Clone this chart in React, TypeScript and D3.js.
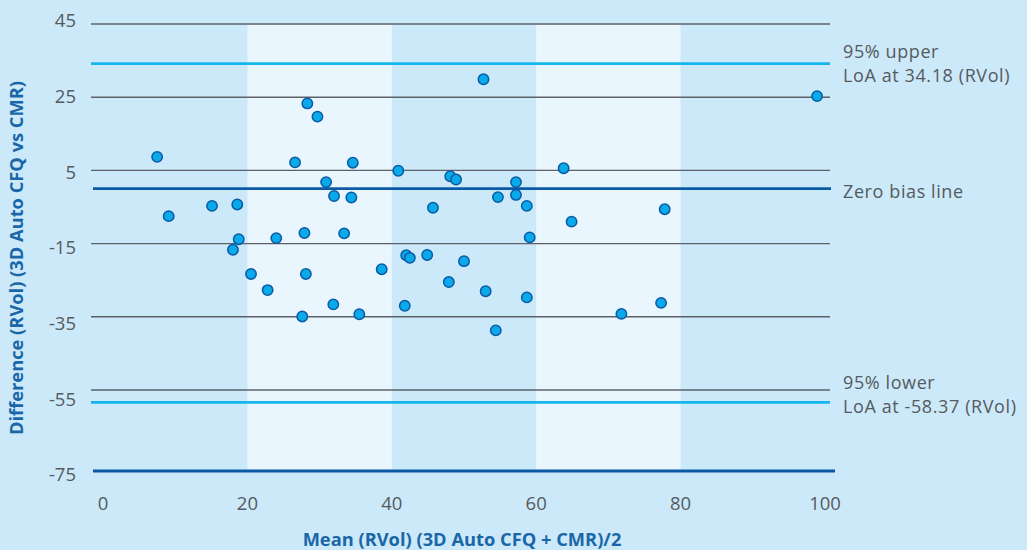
import React, { useRef, useEffect } from "react";
import { select, scaleLinear } from "d3";

// Bland-Altman data
const meanVals = [
  7.5, 9.1, 15.1, 18.6, 18.0, 18.8, 20.5, 22.8, 24.0, 26.6, 28.3, 29.7,
  30.9, 32.0, 27.9, 28.1, 27.6, 31.9, 33.4, 34.4, 34.6, 35.5, 38.6, 40.9,
  42.0, 42.5, 41.8, 44.9, 45.7, 47.9, 48.1, 48.9, 50.0, 52.7, 53.0, 54.4,
  54.7, 57.2, 57.2, 58.7, 59.1, 58.7, 63.8, 64.9, 71.8, 77.3, 77.8, 98.9,
];
const diffVals = [
  8.7, -7.5, -4.7, -4.3, -16.7, -13.8, -23.3, -27.7, -13.5, 7.2, 23.3, 19.7,
  1.8, -2.0, -12.1, -23.3, -34.9, -31.6, -12.2, -2.4, 7.1, -34.3, -22.0, 4.9,
  -18.2, -18.9, -32.0, -18.1, -5.2, -25.5, 3.4, 2.5, -19.8, 29.9, -28.0, -38.7,
  -2.3, 1.8, -1.7, -4.7, -13.3, -29.7, 5.6, -9.0, -34.2, -31.2, -5.6, 25.3,
];

const xTicks = [0, 20, 40, 60, 80, 100];
const yTicks = [45, 25, 5, -15, -35, -55, -75];
const whiteBands = [[20, 40], [60, 80]];

const upperLoA = 34.18;
const lowerLoA = -58.37;
const zeroBias = 0;

const upperLabel = ["95% upper", "LoA at 34.18 (RVol)"];
const biasLabel = ["Zero bias line"];
const lowerLabel = ["95% lower", "LoA at -58.37 (RVol)"];

const xTitle = "Mean (RVol) (3D Auto CFQ + CMR)/2";
const yTitle = "Difference (RVol) (3D Auto CFQ vs CMR)";

const W = 1027;
const H = 550;
const plotTop = 24;
const plotBottom = 471;
const font = "'Open Sans', 'Noto Sans', sans-serif";

function App() {
  const svgRef = useRef<SVGSVGElement | null>(null);

  useEffect(() => {
    const svg = select(svgRef.current);
    svg.selectAll("*").remove();

    const x = scaleLinear().domain([0, 100]).range([103, 825]);
    const y = scaleLinear().domain([45, -55]).range([24, 390]);
    // the tick labels sit on an even ladder of their own
    const labelY = scaleLinear().domain([45, -75]).range([21, 475]);

    svg.append("rect").attr("width", W).attr("height", H).attr("fill", "#cce9f9");

    svg
      .selectAll(".band")
      .data(whiteBands)
      .join("rect")
      .attr("class", "band")
      .attr("x", (d) => x(d[0]))
      .attr("width", (d) => x(d[1]) - x(d[0]))
      .attr("y", plotTop)
      .attr("height", plotBottom - plotTop)
      .attr("fill", "#eaf6fd");

    // grid
    svg
      .selectAll(".grid")
      .data(yTicks.slice(0, -1))
      .join("line")
      .attr("class", "grid")
      .attr("x1", 91)
      .attr("x2", 830)
      .attr("y1", (d) => y(d))
      .attr("y2", (d) => y(d))
      .attr("stroke", "#5d6268")
      .attr("stroke-width", 1.4);

    // limits of agreement
    svg
      .selectAll(".loa")
      .data([upperLoA, lowerLoA])
      .join("line")
      .attr("class", "loa")
      .attr("x1", 91)
      .attr("x2", 830)
      .attr("y1", (d) => y(d))
      .attr("y2", (d) => y(d))
      .attr("stroke", "#14b6ec")
      .attr("stroke-width", 2.6);

    svg
      .append("line")
      .attr("x1", 93)
      .attr("x2", 831)
      .attr("y1", y(zeroBias))
      .attr("y2", y(zeroBias))
      .attr("stroke", "#0a5aa5")
      .attr("stroke-width", 2.8);

    // x baseline
    svg
      .append("line")
      .attr("x1", 93)
      .attr("x2", 835)
      .attr("y1", plotBottom)
      .attr("y2", plotBottom)
      .attr("stroke", "#0a5aa5")
      .attr("stroke-width", 3);

    // points
    svg
      .selectAll(".dot")
      .data(meanVals.map((m, i) => ({ m, d: diffVals[i] })))
      .join("circle")
      .attr("class", "dot")
      .attr("cx", (p) => x(p.m))
      .attr("cy", (p) => y(p.d))
      .attr("r", 5.2)
      .attr("fill", "#0aaaea")
      .attr("stroke", "#0a5aa5")
      .attr("stroke-width", 1.5);

    // tick labels
    svg
      .selectAll(".ylab")
      .data(yTicks)
      .join("text")
      .attr("class", "ylab")
      .attr("x", 76)
      .attr("y", (d) => labelY(d))
      .attr("dy", "0.35em")
      .attr("text-anchor", "end")
      .attr("font-family", font)
      .attr("font-size", 18.5)
      .attr("fill", "#555a60")
      .text((d) => d);

    svg
      .selectAll(".xlab")
      .data(xTicks)
      .join("text")
      .attr("class", "xlab")
      .attr("x", (d) => x(d))
      .attr("y", 504)
      .attr("dy", "0.35em")
      .attr("text-anchor", "middle")
      .attr("font-family", font)
      .attr("font-size", 18.5)
      .attr("fill", "#555a60")
      .text((d) => d);

    // line labels
    const lab = (lines: string[], y0: number) => {
      svg
        .append("g")
        .selectAll("text")
        .data(lines)
        .join("text")
        .attr("x", 843)
        .attr("y", (_, i) => y0 + i * 24.5)
        .attr("dy", "0.35em")
        .attr("font-family", font)
        .attr("font-size", 18)
        .attr("letter-spacing", 0.6)
        .attr("fill", "#555a60")
        .text((d) => d);
    };
    lab(upperLabel, y(upperLoA) - 12);
    lab(biasLabel, y(zeroBias) + 3);
    lab(lowerLabel, y(lowerLoA) - 20);

    // axis titles
    svg
      .append("text")
      .attr("x", 462)
      .attr("y", 540)
      .attr("dy", "0.35em")
      .attr("text-anchor", "middle")
      .attr("font-family", font)
      .attr("font-weight", "bold")
      .attr("font-size", 18.3)
      .attr("fill", "#1a67a8")
      .text(xTitle);

    svg
      .append("text")
      .attr("transform", "translate(17,258) rotate(-90)")
      .attr("dy", "0.35em")
      .attr("text-anchor", "middle")
      .attr("font-family", font)
      .attr("font-weight", "bold")
      .attr("font-size", 18.3)
      .attr("fill", "#1a67a8")
      .text(yTitle);
  }, []);

  return (
    <svg
      ref={svgRef}
      width={W}
      height={H}
      style={{ position: "absolute", left: 0, top: 0 }}
    />
  );
}

export default App;
